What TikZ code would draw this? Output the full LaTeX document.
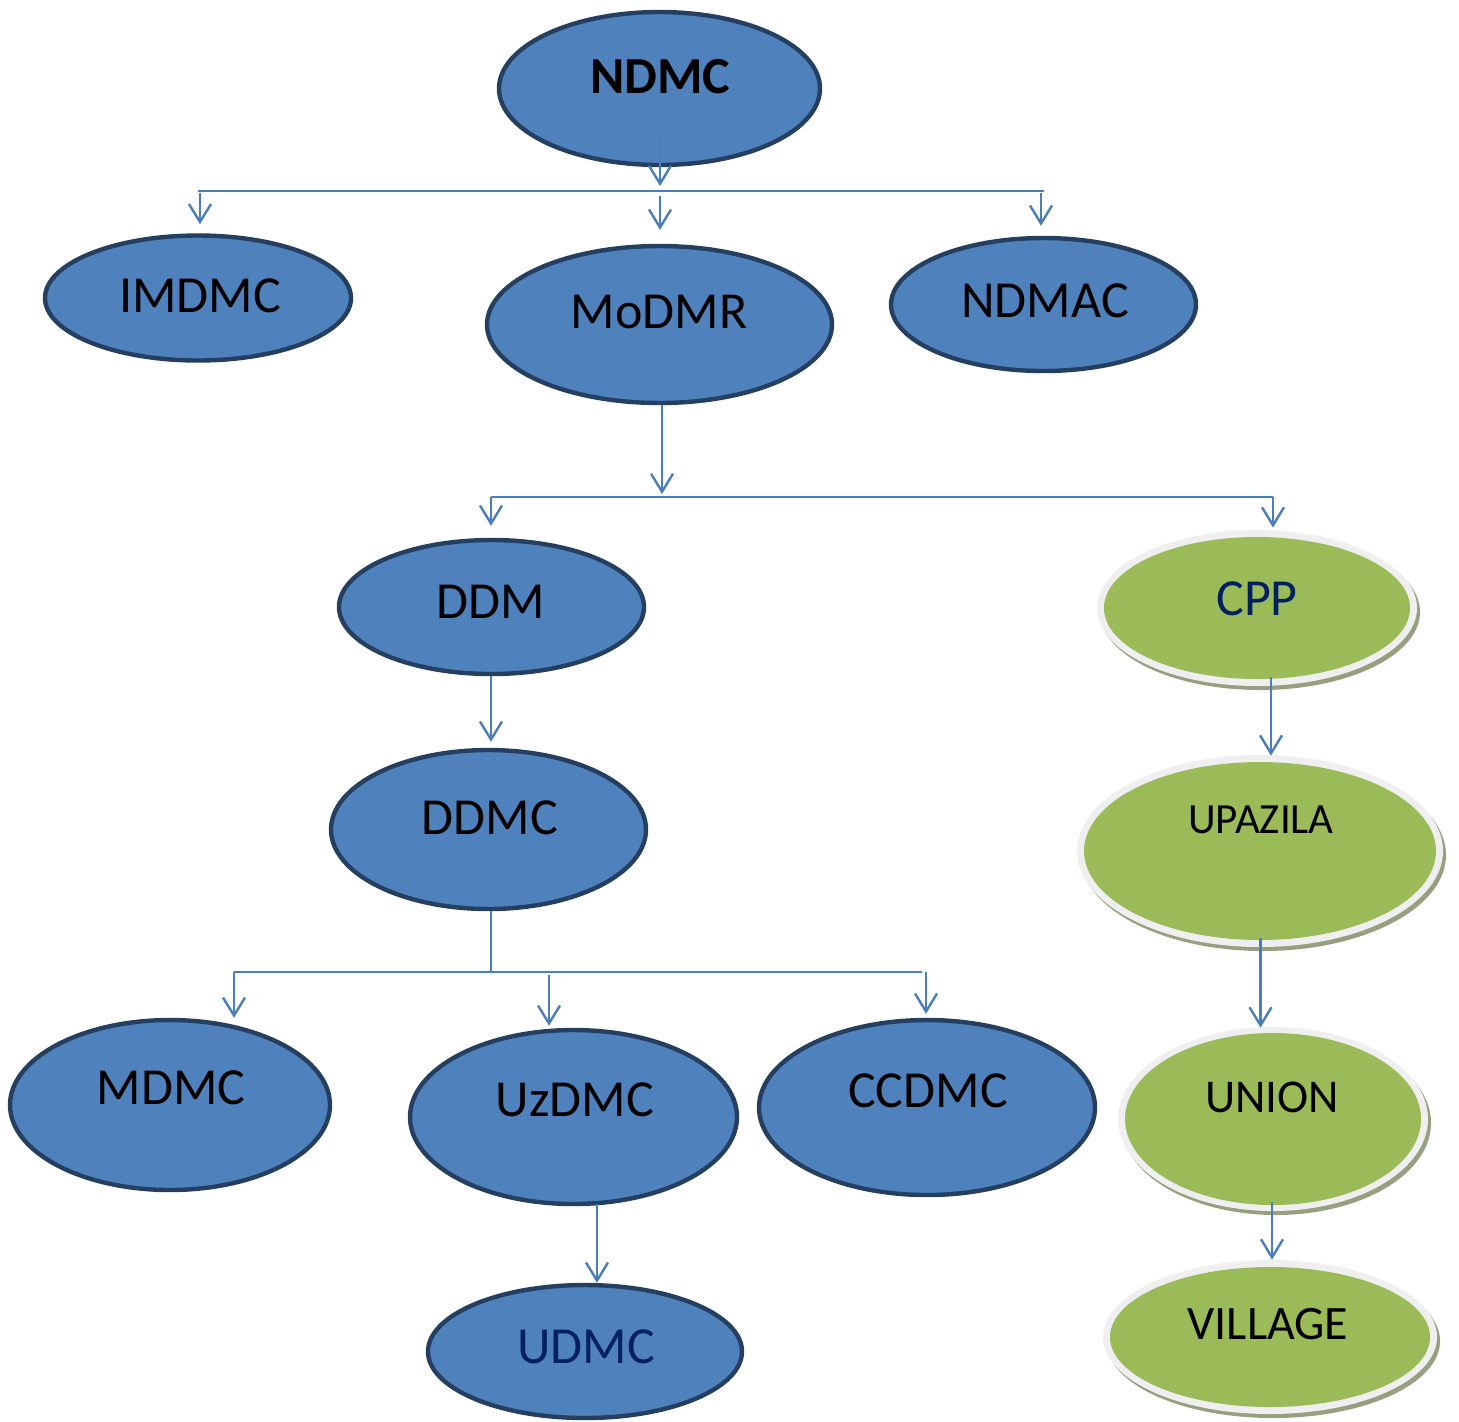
\documentclass[tikz,border=0pt]{standalone}
\usepackage{fontspec}
\setmainfont{Carlito}
\usetikzlibrary{arrows.meta,calc,shapes.geometric}
\definecolor{bfill}{HTML}{4F81BD}
\definecolor{bdraw}{HTML}{243F60}
\definecolor{conn}{HTML}{4A7EBB}
\definecolor{gfill}{HTML}{9BBB59}
\definecolor{grim}{HTML}{EFEFEF}
\definecolor{gshad}{RGB}{150,160,128}
\definecolor{navy}{HTML}{002060}
\begin{document}
\begin{tikzpicture}[x=0.5pt,y=-0.5pt,
 bell/.style={ellipse,draw=bdraw,line width=2.2pt,fill=bfill,inner sep=0pt},
 rimell/.style={ellipse,fill=grim,inner sep=0pt},
 shadell/.style={ellipse,fill=gshad,inner sep=0pt},
 gell/.style={ellipse,fill=gfill,inner sep=0pt},
 lbl/.style={anchor=base,inner sep=0pt,font=\fontsize{26}{30}\selectfont},
 arr/.style={draw=conn,line width=1.2pt,-{Straight Barb[length=9pt,width=11pt]}},
 ln/.style={draw=conn,line width=1.2pt}]
\useasboundingbox (0,0) rectangle (1459,1421);

% blue ellipses
\node[bell,minimum width=160.5pt,minimum height=76.5pt] (ndmc) at (659.5,88.5) {};
\node[bell,minimum width=153pt,minimum height=62.5pt] (imdmc) at (198,298) {};
\node[bell,minimum width=172.5pt,minimum height=78.5pt] (modmr) at (659.5,324.5) {};
\node[bell,minimum width=152.5pt,minimum height=66.5pt] (ndmac) at (1043.5,304.5) {};
\node[bell,minimum width=152.5pt,minimum height=67pt] (ddm) at (491.5,607) {};
\node[bell,minimum width=157.5pt,minimum height=79.5pt] (ddmc) at (488.5,829.5) {};
\node[bell,minimum width=160pt,minimum height=85pt] (mdmc) at (170,1105) {};
\node[bell,minimum width=163.5pt,minimum height=87pt] (uzdmc) at (573.5,1117) {};
\node[bell,minimum width=168pt,minimum height=87.5pt] (ccdmc) at (927,1107.5) {};
\node[bell,minimum width=157pt,minimum height=66.5pt] (udmc) at (585,1351.5) {};

% green ellipses
\node[shadell,minimum width=160pt,minimum height=78pt] (cppS) at (1260,612) {};
\node[rimell,minimum width=160pt,minimum height=78pt] (cppR) at (1257,608) {};
\node[gell,minimum width=153pt,minimum height=71pt] (cpp) at (1257,608) {};

\node[shadell,minimum width=183pt,minimum height=96pt] (upaS) at (1263,855) {};
\node[rimell,minimum width=183pt,minimum height=96pt] (upaR) at (1260,851) {};
\node[gell,minimum width=176pt,minimum height=89pt] (upa) at (1260,851) {};

\node[shadell,minimum width=155pt,minimum height=92pt] (unionS) at (1276,1123) {};
\node[rimell,minimum width=155pt,minimum height=92pt] (unionR) at (1273,1119) {};
\node[gell,minimum width=148pt,minimum height=86pt] (union) at (1273,1119) {};

\node[shadell,minimum width=167pt,minimum height=77pt] (villS) at (1273,1341) {};
\node[rimell,minimum width=167pt,minimum height=77pt] (villR) at (1270,1337) {};
\node[gell,minimum width=160pt,minimum height=70pt] (vill) at (1270,1337) {};

% labels
\node[lbl,font=\bfseries\fontsize{26}{30}\selectfont] (ndmcT) at (660,93) {NDMC};
\node[lbl] (imdmcT) at (200,312) {IMDMC};
\node[lbl] (modmrT) at (659,328) {MoDMR};
\node[lbl] (ndmacT) at (1045,317) {NDMAC};
\node[lbl] (ddmT) at (491,618) {DDM};
\node[lbl,text=navy] (cppT) at (1257,615) {CPP};
\node[lbl] (ddmcT) at (490,834) {DDMC};
\node[lbl,font=\fontsize{21.5}{25}\selectfont] (upaT) at (1261,833) {UPAZILA};
\node[lbl] (mdmcT) at (171,1104) {MDMC};
\node[lbl] (uzdmcT) at (575,1116) {UzDMC};
\node[lbl] (ccdmcT) at (928,1107) {CCDMC};
\node[lbl,font=\fontsize{23.5}{28}\selectfont] (unionT) at (1272,1112) {UNION};
\node[lbl,text=navy] (udmcT) at (586,1363) {UDMC};
\node[lbl,font=\fontsize{24}{28}\selectfont] (villT) at (1268,1339) {VILLAGE};

% junction coordinates
\coordinate (j1) at (660,191);
\coordinate (j1L) at (198,191);
\coordinate (j1R) at (1044,191);
\coordinate (j2) at (662,497);
\coordinate (j2L) at (491,497);
\coordinate (j2R) at (1273,497);
\coordinate (j3) at (491,972);
\coordinate (j3L) at (234,972);
\coordinate (j3M) at (549,972);
\coordinate (j3R) at (922,972);

% connectors level 1
\draw[arr] ($(ndmc.center)+(0.5,45)$) -- ($(j1)+(0,-5)$);
\draw[ln] (j1L) -- (j1R);
\draw[arr] ($(j1L)+(2,2)$) -- ($(imdmc.north)+(2,-9)$);
\draw[arr] ($(j1)+(0,5)$) -- ($(modmr.north)+(0.5,-14)$);
\draw[arr] ($(j1R)+(-3,2)$) -- ($(ndmac.north)+(-2.5,-10)$);

% level 2
\draw[arr] ($(modmr.south)+(2.5,0)$) -- ($(j2)+(0,-3)$);
\draw[ln] (j2L) -- (j2R);
\draw[arr] (j2L) -- ($(ddm.north)+(-0.5,-12)$);
\draw[arr] (j2R) -- ($(cppR.north)+(16,-2)$);

% left column
\draw[arr] ($(ddm.south)+(-0.5,0)$) -- ($(ddmc.north)+(2.5,-6)$);
\draw[ln] ($(ddmc.south)+(2.5,0)$) -- (j3);
\draw[ln] (j3L) -- (j3R);
\draw[arr] (j3L) -- (j3L |- mdmc.north);
\draw[arr] ($(j3M)+(0,3)$) -- ($(j3M |- uzdmc.north)+(0,-2)$);
\draw[arr] ($(j3R)+(4,0)$) -- ($(j3R |- ccdmc.north)+(4,-4)$);
\draw[arr] ($(uzdmc.south)+(23.5,-2)$) -- ($(udmc.north)+(12,0)$);

% right column
\draw[arr] ($(cpp.south)+(14,-2)$) -- ($(upaR.north)+(11,1)$);
\draw[arr] ($(upa.south)+(0.5,-2)$) -- ($(unionR.north)+(-12.5,1)$);
\draw[arr] ($(union.south)+(-1,-3)$) -- ($(villR.north)+(2,0)$);
\end{tikzpicture}
\end{document}
